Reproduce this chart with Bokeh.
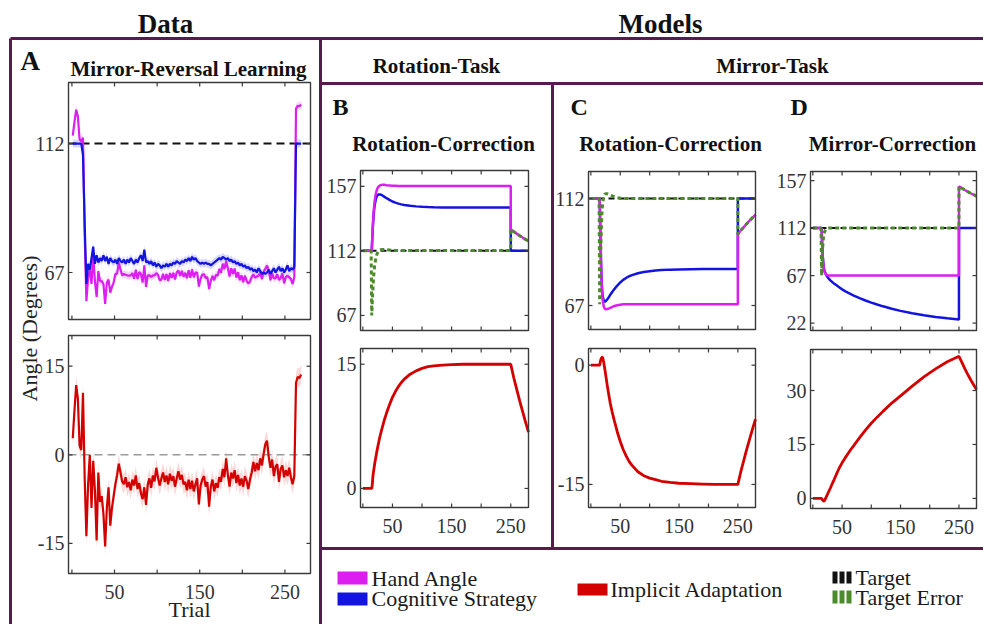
from bokeh.plotting import figure
from bokeh.models import Range1d
from bokeh.embed import file_html
from bokeh.resources import INLINE
from bokeh.core.properties import value

# ---------------------------------------------------------------- data
# Panel A: behavioural data, averaged every other trial
trials_A = list(range(1, 270, 2))

hand_A = [
    114.8, 119.5, 123.8, 121.5, 113.5, 112.8, 114, 80, 57, 65,
    68, 63, 73, 64, 58.5, 67.5, 64, 64, 63, 56,
    63.5, 64.5, 60, 62, 63.5, 66.5, 66.5, 70.5, 68, 66,
    66.5, 66.2, 66, 65.9, 66, 66.8, 64.8, 68, 64.7, 67.2,
    66.5, 63.5, 69.5, 62, 66, 66, 65.4, 66, 66, 66.8,
    66.2, 64.3, 64.5, 66.5, 64.4, 66.5, 64, 66.8, 65.1, 66.9,
    64.6, 67, 67.7, 65.8, 67.6, 65.5, 66.9, 65, 67.8, 65.2,
    68.1, 65.3, 67, 67, 62.1, 64.8, 66.3, 66.4, 65.1, 65.4,
    61.2, 64.1, 65.8, 64.3, 66.2, 65.9, 68.2, 66.9, 70.1, 68.2,
    70.9, 68.6, 65.6, 68.5, 66.5, 68.4, 65.2, 67.1, 64.3, 66,
    63.6, 65.9, 64.1, 63.2, 63.8, 65.5, 66.3, 65.2, 65.6, 65.9,
    66.9, 64.7, 67.2, 68.3, 69.4, 67.6, 64.3, 66.7, 64.9, 65,
    66.4, 64.4, 65.1, 66.7, 63.2, 65.4, 65.9, 65.3, 64.7, 63,
    65.4, 124.2, 125.2, 125, 125.6,
]

strategy_A = [
    112, 112, 112, 112, 112, 112, 108, 84, 63, 70,
    68, 72, 76, 70, 73, 70.5, 72, 71, 73, 71,
    72.5, 70, 72, 71, 70.5, 71.5, 70, 72, 71, 70.5,
    71.5, 70, 71.5, 70.5, 72, 71, 70, 71.5, 70.5, 72,
    73, 71, 75, 70.5, 71, 70, 71, 69.5, 70.5, 69,
    70, 69.5, 68.5, 69.5, 69, 70, 69, 70, 69.5, 70.5,
    70, 71, 70.5, 70, 71, 70.5, 71.5, 71, 72, 71,
    72.5, 71.5, 72, 71, 70.5, 70, 70.5, 70, 70.5, 70,
    70, 69.5, 70, 70.5, 71, 71.5, 72, 71.5, 72.5, 72,
    71.5, 72, 71, 71.5, 70.5, 71, 70, 70.5, 69.5, 70,
    69, 69.5, 68.5, 69, 68, 68.5, 67.5, 68, 67, 68.5,
    67.5, 66.5, 67, 66.5, 67, 68, 66.5, 67.5, 68.5, 67,
    68, 69, 67.5, 68.5, 67, 68, 69.5, 67.5, 68.5, 68,
    69, 112, 112, 112, 112,
]

implicit_A = [
    2.8, 7.5, 11.8, 9.5, 1.5, 0.8, 10.5, -4.0, -13.8, -5.0,
    0.0, -9.0, -1.0, -6.0, -14.5, -3.0, -8.0, -7.0, -10.0, -15.5,
    -9.0, -5.5, -12.0, -9.0, -7.0, -5.0, -3.5, -1.5, -3.0, -4.5,
    -5.0, -3.8, -5.5, -4.6, -6.0, -4.2, -5.2, -3.5, -5.8, -4.8,
    -6.5, -7.5, -5.5, -8.5, -5.0, -4.0, -5.6, -3.5, -4.5, -2.2,
    -3.8, -5.2, -4.0, -3.0, -4.6, -3.5, -5.0, -3.2, -4.4, -3.6,
    -5.4, -4.0, -2.8, -4.2, -3.4, -5.0, -4.6, -6.0, -4.2, -5.8,
    -4.4, -6.2, -5.0, -4.0, -8.4, -5.2, -4.2, -3.6, -5.4, -4.6,
    -8.8, -5.4, -4.2, -6.2, -4.8, -5.6, -3.8, -4.6, -2.4, -3.8,
    -0.6, -3.4, -5.4, -3.0, -4.0, -2.6, -4.8, -3.4, -5.2, -4.0,
    -5.4, -3.6, -4.4, -5.8, -4.2, -3.0, -1.2, -2.8, -1.4, -2.6,
    -0.6, -1.8, 0.2, 1.8, 2.4, -0.4, -2.2, -0.8, -3.6, -2.0,
    -1.6, -4.6, -2.4, -1.8, -3.8, -2.6, -3.6, -2.2, -3.8, -5.0,
    -3.6, 12.2, 13.2, 13.0, 13.6,
]

# standard error half-widths of the shaded bands
hand_sem, strategy_sem, implicit_sem = 1.4, 1.4, 1.6

target_angle = 112
target_error_zero = 0

# Panels B-D: model simulations on a shared trial grid
model_trials = [
    0, 14, 15, 16, 17, 18, 19, 20,
    22, 24, 26, 28, 30, 33, 36, 40,
    45, 50, 55, 60, 65, 70, 80, 90,
    100, 110, 120, 135, 150, 170, 190, 210,
    230, 250, 250, 255, 260, 265, 270, 275, 280,
]

# B: rotation task, rotation correction
hand_B = [
    112, 112, 112, 122, 131, 138, 143, 147,
    152, 155, 156.5, 157.3, 157.8, 158, 158, 157.8,
    157.6, 157.4, 157.3, 157.2, 157.2, 157.2, 157.2, 157.2,
    157.2, 157.2, 157.2, 157.2, 157.2, 157.2, 157.2, 157.2,
    157.2, 157.2, 127, 125.4, 124, 122.6, 121.3, 120, 118.8,
]
strategy_B = [
    112, 112, 112, 121.5, 129.5, 136, 140.5, 144,
    148.2, 150.4, 151.2, 151.3, 151.2, 150.6, 149.8, 148.7,
    147.5, 146.4, 145.6, 144.9, 144.4, 144.0, 143.4, 143.0,
    142.7, 142.5, 142.4, 142.3, 142.25, 142.2, 142.2, 142.2,
    142.2, 142.2, 112, 112, 112, 112, 112, 112, 112,
]
implicit_B = [
    0, 0, 0, 0.5, 1.5, 2.0, 2.5, 3.0,
    3.8, 4.6, 5.3, 6.0, 6.6, 7.4, 8.2, 9.1,
    10.1, 11.0, 11.7, 12.3, 12.8, 13.2, 13.8, 14.2,
    14.5, 14.7, 14.8, 14.9, 14.95, 15, 15, 15,
    15, 15, 15, 13.4, 12.0, 10.6, 9.3, 8.0, 6.8,
]
error_B = [
    112, 112, 67, 77, 86, 93, 98, 102,
    107, 110, 111.5, 112.3, 112.8, 113, 113, 112.8,
    112.6, 112.4, 112.3, 112.2, 112.2, 112.2, 112.2, 112.2,
    112.2, 112.2, 112.2, 112.2, 112.2, 112.2, 112.2, 112.2,
    112.2, 112.2, 127, 125.4, 124, 122.6, 121.3, 120, 118.8,
]

# C: mirror task, rotation correction
hand_C = [
    112, 112, 112, 100, 88, 79, 73, 69.5,
    66.5, 65.6, 65.4, 65.5, 65.7, 66, 66.3, 66.8,
    67.1, 67.3, 67.5, 67.5, 67.5, 67.5, 67.5, 67.5,
    67.5, 67.5, 67.5, 67.5, 67.5, 67.5, 67.5, 67.5,
    67.5, 67.5, 97, 98.6, 100, 101.4, 102.7, 104, 105.2,
]
strategy_C = [
    112, 112, 112, 99.6, 87.5, 79, 74, 71,
    69, 68.6, 69, 69.6, 70.3, 71.5, 72.6, 73.9,
    75.4, 76.7, 77.8, 78.6, 79.3, 79.8, 80.6, 81.1,
    81.4, 81.7, 81.9, 82.1, 82.2, 82.3, 82.35, 82.4,
    82.4, 82.4, 112, 112, 112, 112, 112, 112, 112,
]
implicit_C = [
    0, 0, 0, 0.4, 0.7, 0.9, 1.0, 1.0,
    0.3, -0.6, -1.6, -2.6, -3.5, -4.8, -5.8, -7.0,
    -8.4, -9.6, -10.6, -11.4, -12.1, -12.6, -13.4, -13.9,
    -14.2, -14.4, -14.6, -14.75, -14.85, -14.9, -14.95, -15,
    -15, -15, -15, -13.4, -12.0, -10.6, -9.3, -8.0, -6.8,
]
error_C = [
    112, 112, 67.5, 79.5, 91.5, 100.5, 106.5, 110,
    113, 113.9, 114.1, 114, 113.8, 113.5, 113.2, 112.7,
    112.4, 112.2, 112, 112, 112, 112, 112, 112,
    112, 112, 112, 112, 112, 112, 112, 112,
    112, 112, 97, 98.6, 100, 101.4, 102.7, 104, 105.2,
]

# D: mirror task, mirror correction
hand_D = [
    112, 112, 112, 95, 84, 77, 73, 70.5,
    68.5, 67.6, 67.2, 67, 67, 67, 67, 67,
    67, 67, 67, 67, 67, 67, 67, 67,
    67, 67, 67, 67, 67, 67, 67, 67,
    67, 67, 151.5, 149.8, 148.1, 146.5, 145, 143.6, 142.3,
]
strategy_D = [
    112, 112, 112, 96, 85, 78, 74, 71.5,
    68.5, 66.5, 65, 63.7, 62.5, 61, 59.6, 58,
    56, 54, 52.3, 50.8, 49.4, 48, 45.6, 43.4,
    41.4, 39.6, 37.9, 35.6, 33.6, 31.3, 29.4, 27.8,
    26.5, 25.4, 112, 112, 112, 112, 112, 112, 112,
]
implicit_D = [
    0, 0, 0, -0.3, -0.5, -0.7, -0.75, -0.6,
    0.1, 0.8, 1.5, 2.2, 2.9, 4.0, 5.1, 6.6,
    8.4, 9.9, 11.2, 12.4, 13.6, 14.7, 16.9, 19.0,
    20.9, 22.6, 24.2, 26.5, 28.5, 31.2, 33.8, 36.0,
    38.0, 39.5, 39.5, 37.8, 36.1, 34.5, 33.0, 31.6, 30.3,
]
error_D = [
    112, 112, 67, 84, 95, 102, 106, 108.5,
    110.5, 111.4, 111.8, 112, 112, 112, 112, 112,
    112, 112, 112, 112, 112, 112, 112, 112,
    112, 112, 112, 112, 112, 112, 112, 112,
    112, 112, 151.5, 149.8, 148.1, 146.5, 145, 143.6, 142.3,
]

for series in (hand_A, strategy_A, implicit_A):
    assert len(series) == len(trials_A)
for series in (hand_B, strategy_B, implicit_B, error_B, hand_C, strategy_C,
               implicit_C, error_C, hand_D, strategy_D, implicit_D, error_D):
    assert len(series) == len(model_trials)

trial_ticks = [0, 50, 100, 150, 200, 250]
trial_labels = [50, 150, 250]
trial_lim = (-4, 280)

# ---------------------------------------------------------------- style
MAGENTA = "#dc1ef0"
BLUE = "#1414e0"
RED = "#d40000"
GREEN = "#4b8b2b"
BLACK = "#111111"
FRAME = "#5a1a4e"
AXIS = "#3a3a3a"
TICKTXT = "#333333"
SERIF = value("Liberation Serif")

W, H = 983, 624

# one canvas in pixel units (y grows downwards); every panel gets its own
# trial / angle ranges mapped onto its box
p = figure(width=W, height=H, x_range=Range1d(0, W), y_range=Range1d(H, 0),
           output_backend="svg", toolbar_location=None, min_border=0,
           x_axis_location=None, y_axis_location=None, outline_line_color=None)
p.grid.grid_line_color = None
p.background_fill_color = "white"
p.border_fill_color = "white"

# column boxes (left, right) and panel boxes (column, top, bottom, y-limits, y-ticks, x-labels)
COLUMNS = {"A": (68, 310), "B": (360, 528), "C": (588, 755), "D": (810, 976)}
PANELS = {
    "A_top": ("A", 82, 319, (50.6, 133.3), [67, 112], False),
    "A_bot": ("A", 335, 573, (-20.1, 20.2), [-15, 0, 15], True),
    "B_top": ("B", 170, 330, (56.5, 168.0), [67, 112, 157], False),
    "B_bot": ("B", 348, 507, (-2.3, 16.9), [0, 15], True),
    "C_top": ("C", 171, 329, (56.9, 123.4), [67, 112], False),
    "C_bot": ("C", 348, 507, (-17.9, 2.1), [-15, 0], True),
    "D_top": ("D", 171, 330, (15.0, 165.6), [22, 67, 112, 157], False),
    "D_bot": ("D", 349, 508, (-2.8, 41.4), [0, 15, 30], True),
}

x_ranges, y_ranges = {}, {}
for name, (left, right) in COLUMNS.items():
    s = (trial_lim[1] - trial_lim[0]) / (right - left)
    x_ranges[name] = Range1d(trial_lim[0] - left * s, trial_lim[0] + (W - left) * s)
for name, (col, top, bottom, (lo, hi), _, _) in PANELS.items():
    s = (hi - lo) / (bottom - top)
    y_ranges[name] = Range1d(lo - (H - bottom) * s, lo + bottom * s)
p.extra_x_ranges = x_ranges
p.extra_y_ranges = y_ranges

TL = 4  # tick length in pixels


def draw_axes(name):
    col, top, bottom, _, yticks, xlabels = PANELS[name]
    left, right = COLUMNS[col]
    n, m = len(trial_ticks), len(yticks)
    p.segment(x0=trial_ticks, x1=trial_ticks, y0=[bottom] * n, y1=[bottom - TL] * n,
              x_range_name=col, line_color=AXIS, line_width=1.2)
    p.segment(x0=trial_ticks, x1=trial_ticks, y0=[top] * n, y1=[top + TL] * n,
              x_range_name=col, line_color=AXIS, line_width=1.2)
    p.segment(x0=[left] * m, x1=[left + TL] * m, y0=yticks, y1=yticks,
              y_range_name=name, line_color=AXIS, line_width=1.2)
    p.segment(x0=[right] * m, x1=[right - TL] * m, y0=yticks, y1=yticks,
              y_range_name=name, line_color=AXIS, line_width=1.2)
    p.quad(left=left, right=right, top=top, bottom=bottom, fill_color=None,
           line_color=AXIS, line_width=1.4)
    p.text(x=[left - 4] * m, y=yticks, text=[str(v) for v in yticks],
           y_range_name=name, text_align="right", text_baseline="middle",
           text_font=SERIF, text_font_size="20px", text_color=TICKTXT)
    if xlabels:
        k = len(trial_labels)
        p.text(x=trial_labels, y=[bottom + 18] * k, text=[str(v) for v in trial_labels],
               x_range_name=col, text_align="center", text_baseline="middle",
               text_font=SERIF, text_font_size="20px", text_color=TICKTXT)


# ---------------------------------------------------------------- panel A
def band(series, sem):
    return [v - sem for v in series], [v + sem for v in series]


lo, hi = band(strategy_A, strategy_sem)
p.varea(x=trials_A, y1=lo, y2=hi, x_range_name="A", y_range_name="A_top",
        fill_color="#8f8ff5", fill_alpha=0.35)
lo, hi = band(hand_A, hand_sem)
p.varea(x=trials_A, y1=lo, y2=hi, x_range_name="A", y_range_name="A_top",
        fill_color="#eea6f6", fill_alpha=0.45)
p.line(x=list(trial_lim), y=[target_angle] * 2, x_range_name="A", y_range_name="A_top",
       line_color=BLACK, line_width=2, line_dash="8 5")
p.line(x=trials_A, y=hand_A, x_range_name="A", y_range_name="A_top",
       line_color=MAGENTA, line_width=2.2)
p.line(x=trials_A, y=strategy_A, x_range_name="A", y_range_name="A_top",
       line_color=BLUE, line_width=2.2)

lo, hi = band(implicit_A, implicit_sem)
p.varea(x=trials_A, y1=lo, y2=hi, x_range_name="A", y_range_name="A_bot",
        fill_color="#f4a9a9", fill_alpha=0.45)
p.line(x=list(trial_lim), y=[target_error_zero] * 2, x_range_name="A", y_range_name="A_bot",
       line_color="#9a9a9a", line_width=1.6, line_dash="8 5")
p.line(x=trials_A, y=implicit_A, x_range_name="A", y_range_name="A_bot",
       line_color=RED, line_width=2.2)

draw_axes("A_top")
draw_axes("A_bot")

# ---------------------------------------------------------------- panels B-D
MODELS = [
    ("B", hand_B, strategy_B, implicit_B, error_B),
    ("C", hand_C, strategy_C, implicit_C, error_C),
    ("D", hand_D, strategy_D, implicit_D, error_D),
]
for col, hand, strategy, implicit, error in MODELS:
    top_name, bot_name = col + "_top", col + "_bot"
    p.line(x=list(trial_lim), y=[target_angle] * 2, x_range_name=col, y_range_name=top_name,
           line_color=BLACK, line_width=2, line_dash="6 4")
    p.line(x=model_trials, y=strategy, x_range_name=col, y_range_name=top_name,
           line_color=BLUE, line_width=2.5)
    p.line(x=model_trials, y=hand, x_range_name=col, y_range_name=top_name,
           line_color=MAGENTA, line_width=2.5)
    p.line(x=model_trials, y=error, x_range_name=col, y_range_name=top_name,
           line_color=GREEN, line_width=3, line_dash="4 3")
    p.line(x=model_trials, y=implicit, x_range_name=col, y_range_name=bot_name,
           line_color=RED, line_width=2.8)
    draw_axes(top_name)
    draw_axes(bot_name)

# ---------------------------------------------------------------- frames
frame_x0 = [10, 10, 320, 320, 552, 320]
frame_y0 = [38, 38, 38, 83, 83, 548]
frame_x1 = [10, W, 320, W, 552, W]
frame_y1 = [H, 38, H, 83, 548, 548]
p.segment(x0=frame_x0, y0=frame_y0, x1=frame_x1, y1=frame_y1,
          line_color=FRAME, line_width=3)

# ---------------------------------------------------------------- texts
def label(x, y, txt, size, bold=False, align="center", color=BLACK, angle=0):
    p.text(x=[x], y=[y], text=[txt], text_font=SERIF, text_font_size=size,
           text_font_style="bold" if bold else "normal", text_align=align,
           text_baseline="middle", text_color=color, angle=angle)


label(165, 23, "Data", "27px", bold=True)
label(660, 23, "Models", "27px", bold=True)
label(20, 60, "A", "27px", bold=True, align="left")
label(188, 68.5, "Mirror-Reversal Learning", "21px", bold=True)
label(436, 65.5, "Rotation-Task", "21px", bold=True)
label(772, 65.5, "Mirror-Task", "21px", bold=True)
label(332, 106, "B", "24px", bold=True, align="left")
label(570, 106, "C", "24px", bold=True, align="left")
label(790, 106, "D", "24px", bold=True, align="left")
label(443, 143.5, "Rotation-Correction", "21px", bold=True)
label(670, 143.5, "Rotation-Correction", "21px", bold=True)
label(892, 143.5, "Mirror-Correction", "21px", bold=True)
label(29, 328, "Angle (Degrees)", "22px", color="#222222", angle=1.5708)
label(189, 609, "Trial", "22px", color="#222222")

# legend
p.quad(left=[337, 337, 577], right=[367, 367, 607], top=[571, 592, 583],
       bottom=[584, 605, 595], fill_color=[MAGENTA, BLUE, RED], line_color=None)
block_l = [832, 839, 846]
block_r = [837, 844, 851]
p.quad(left=block_l, right=block_r, top=[571] * 3, bottom=[583] * 3,
       fill_color=BLACK, line_color=None)
p.quad(left=block_l, right=block_r, top=[590] * 3, bottom=[603] * 3,
       fill_color=GREEN, line_color=None)
label(371, 578, "Hand Angle", "22px", align="left", color="#1a1a1a")
label(371, 597.5, "Cognitive Strategy", "22px", align="left", color="#1a1a1a")
label(610, 588.5, "Implicit Adaptation", "22px", align="left", color="#1a1a1a")
label(855, 577, "Target", "22px", align="left", color="#1a1a1a")
label(855, 596.5, "Target Error", "22px", align="left", color="#1a1a1a")

open("out.html", "w").write(file_html(p, INLINE))
